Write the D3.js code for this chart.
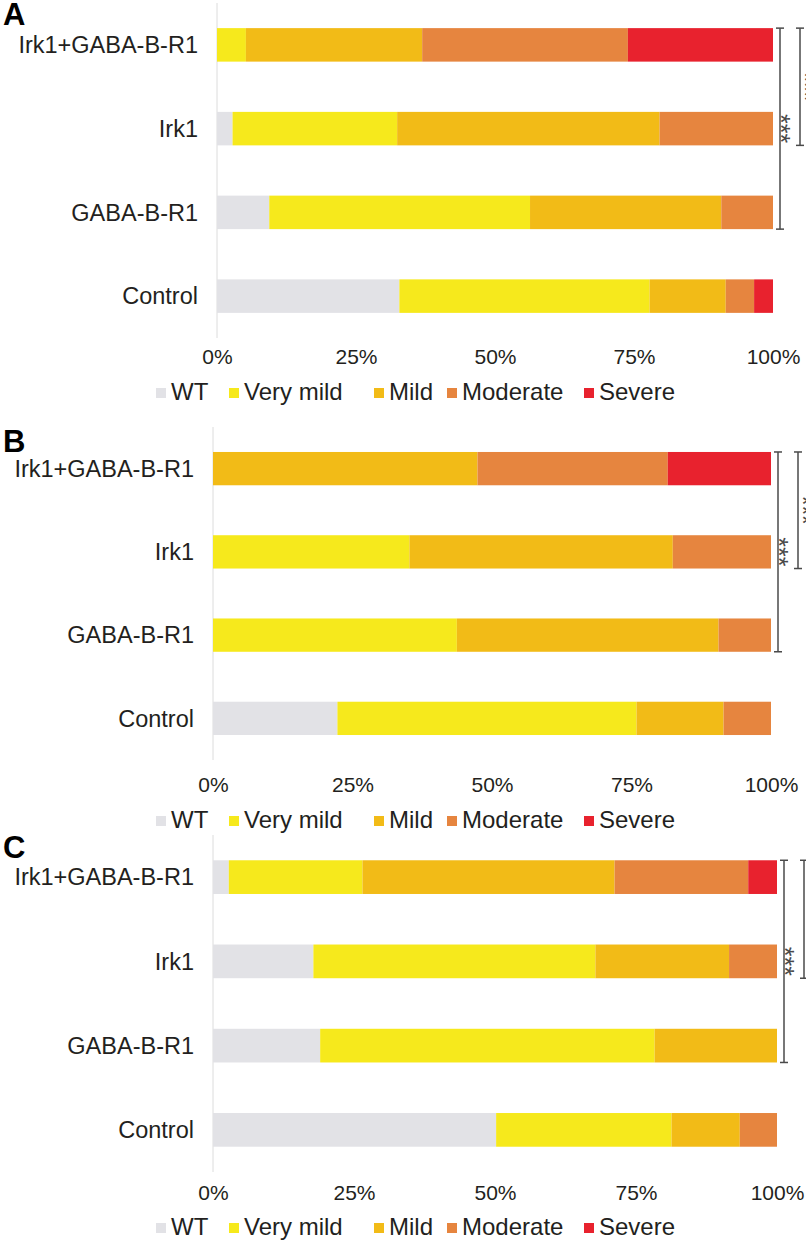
<!DOCTYPE html>
<html>
<head>
<meta charset="utf-8">
<script src="https://cdn.jsdelivr.net/npm/d3@7"></script>
<style>
  body { margin: 0; background: #fff; }
  svg text { font-family: "Liberation Sans", Arial, Helvetica, sans-serif; fill: #231f20; }
</style>
</head>
<body>
<div id="chart"></div>
<script>
// ---- data (percent of animals in each class)
var categories = ["Irk1+GABA-B-R1", "Irk1", "GABA-B-R1", "Control"];
var severities = ["WT", "Very mild", "Mild", "Moderate", "Severe"];
var colors = ["#e2e2e6", "#f6e91c", "#f2bb17", "#e6853f", "#e8222e"];
var tickValues = [0, 25, 50, 75, 100];

// rows follow categories, columns follow severities
var panelA = [
  [0, 5.2, 31.7, 37.0, 26.1],
  [2.8, 29.6, 47.2, 20.4, 0],
  [9.4, 46.9, 34.4, 9.3, 0],
  [32.8, 45.0, 13.7, 5.1, 3.4]
];
var panelB = [
  [0, 0, 47.4, 34.1, 18.5],
  [0, 35.2, 47.2, 17.6, 0],
  [0, 43.7, 46.9, 9.4, 0],
  [22.3, 53.6, 15.6, 8.5, 0]
];
var panelC = [
  [2.8, 23.7, 44.7, 23.7, 5.1],
  [17.8, 50.0, 23.7, 8.5, 0],
  [19.0, 59.3, 21.7, 0, 0],
  [50.2, 31.1, 12.1, 6.6, 0]
];

// significance brackets: [from category, to category, label]
var bracketsAB = [["Irk1+GABA-B-R1", "GABA-B-R1", "***"], ["Irk1+GABA-B-R1", "Irk1", "***"]];

// ---- layout
var width = 806, height = 1244;
var legendX = [156, 229, 374, 447, 584];

var panels = [
  {letter: "A", data: panelA, x: [217, 773], y: [3, 338], tickY: 357, legendY: 392, letterY: 25, brackets: bracketsAB},
  {letter: "B", data: panelB, x: [213, 771], y: [427, 760], tickY: 785, legendY: 820, letterY: 452, brackets: bracketsAB},
  {letter: "C", data: panelC, x: [213, 777], y: [835, 1172], tickY: 1193, legendY: 1227, letterY: 858, brackets: bracketsAB}
];

var svg = d3.select("#chart")
  .append("svg")
    .attr("width", width)
    .attr("height", height);

var stack = d3.stack().keys(severities);

panels.forEach(function(p) {
  var g = svg.append("g");

  var xScale = d3.scaleLinear().domain([0, 100]).range(p.x);
  var yScale = d3.scaleBand()
      .domain(categories)
      .range(p.y)
      .paddingInner(0.6)
      .paddingOuter(0.3);

  var rows = categories.map(function(c, i) {
    var r = {cat: c};
    severities.forEach(function(s, j) { r[s] = p.data[i][j]; });
    return r;
  });
  var series = stack(rows);

  // light vertical baseline at 0%
  g.append("line")
    .attr("x1", xScale(0)).attr("x2", xScale(0))
    .attr("y1", p.y[0]).attr("y2", p.y[1])
    .attr("stroke", "#dcdcdc")
    .attr("stroke-width", 1);

  // bars
  g.selectAll("g.series")
    .data(series)
    .join("g")
      .attr("class", "series")
      .attr("fill", function(d, i) { return colors[i]; })
    .selectAll("rect")
    .data(function(d) { return d; })
    .join("rect")
      .attr("x", function(d) { return xScale(d[0]); })
      .attr("y", function(d) { return yScale(d.data.cat); })
      .attr("width", function(d) { return xScale(d[1]) - xScale(d[0]); })
      .attr("height", yScale.bandwidth());

  // category labels
  g.selectAll("text.cat")
    .data(categories)
    .join("text")
      .attr("class", "cat")
      .attr("x", xScale(0) - 19)
      .attr("y", function(d) { return yScale(d) + yScale.bandwidth() / 2; })
      .attr("dy", "0.35em")
      .attr("text-anchor", "end")
      .style("font-size", "23.5px")
      .text(function(d) { return d; });

  // x axis tick labels
  var axis = g.append("g")
    .attr("transform", "translate(0," + p.tickY + ")")
    .call(d3.axisBottom(xScale)
      .tickValues(tickValues)
      .tickFormat(function(d) { return d + "%"; })
      .tickSize(0)
      .tickPadding(0));
  axis.select(".domain").remove();
  axis.selectAll("text")
    .attr("y", 0)
    .attr("dy", "0.35em")
    .style("font-size", "21px")
    .style("font-family", "'Liberation Sans', Arial, sans-serif")
    .attr("fill", "#333");

  // legend
  var leg = g.selectAll("g.leg")
    .data(severities)
    .join("g")
      .attr("class", "leg")
      .attr("transform", function(d, i) { return "translate(" + legendX[i] + "," + p.legendY + ")"; });
  leg.append("rect")
    .attr("x", 0).attr("y", -4)
    .attr("width", 10).attr("height", 10)
    .attr("fill", function(d, i) { return colors[i]; });
  leg.append("text")
    .attr("x", 15)
    .attr("dy", "0.35em")
    .style("font-size", "24px")
    .text(function(d) { return d; });

  // panel letter
  g.append("text")
    .attr("x", 3)
    .attr("y", p.letterY)
    .style("font-size", "31px")
    .style("font-weight", "bold")
    .style("fill", "#000")
    .text(p.letter);

  // brackets
  p.brackets.forEach(function(b, i) {
    var bx = xScale(100) + 7 + i * 20;
    var y1 = yScale(b[0]);
    var y2 = yScale(b[1]) + yScale.bandwidth();
    var bg = g.append("g").attr("stroke", "#4a4a4a").attr("stroke-width", 1.5);
    bg.append("line").attr("x1", bx).attr("x2", bx).attr("y1", y1).attr("y2", y2);
    bg.append("line").attr("x1", bx - 4).attr("x2", bx + 4).attr("y1", y1).attr("y2", y1);
    bg.append("line").attr("x1", bx - 4).attr("x2", bx + 4).attr("y1", y2).attr("y2", y2);
    var ty = (i === 0) ? yScale(categories[1]) + yScale.bandwidth() / 2 : (y1 + y2) / 2;
    g.append("text")
      .attr("transform", "translate(" + (bx - 8 + i * 4) + "," + ty + ") rotate(90)")
      .attr("text-anchor", "middle")
      .style("font-size", "25px")
      .style("fill", "#4a4a4a")
      .text(b[2]);
  });
});
</script>
</body>
</html>
